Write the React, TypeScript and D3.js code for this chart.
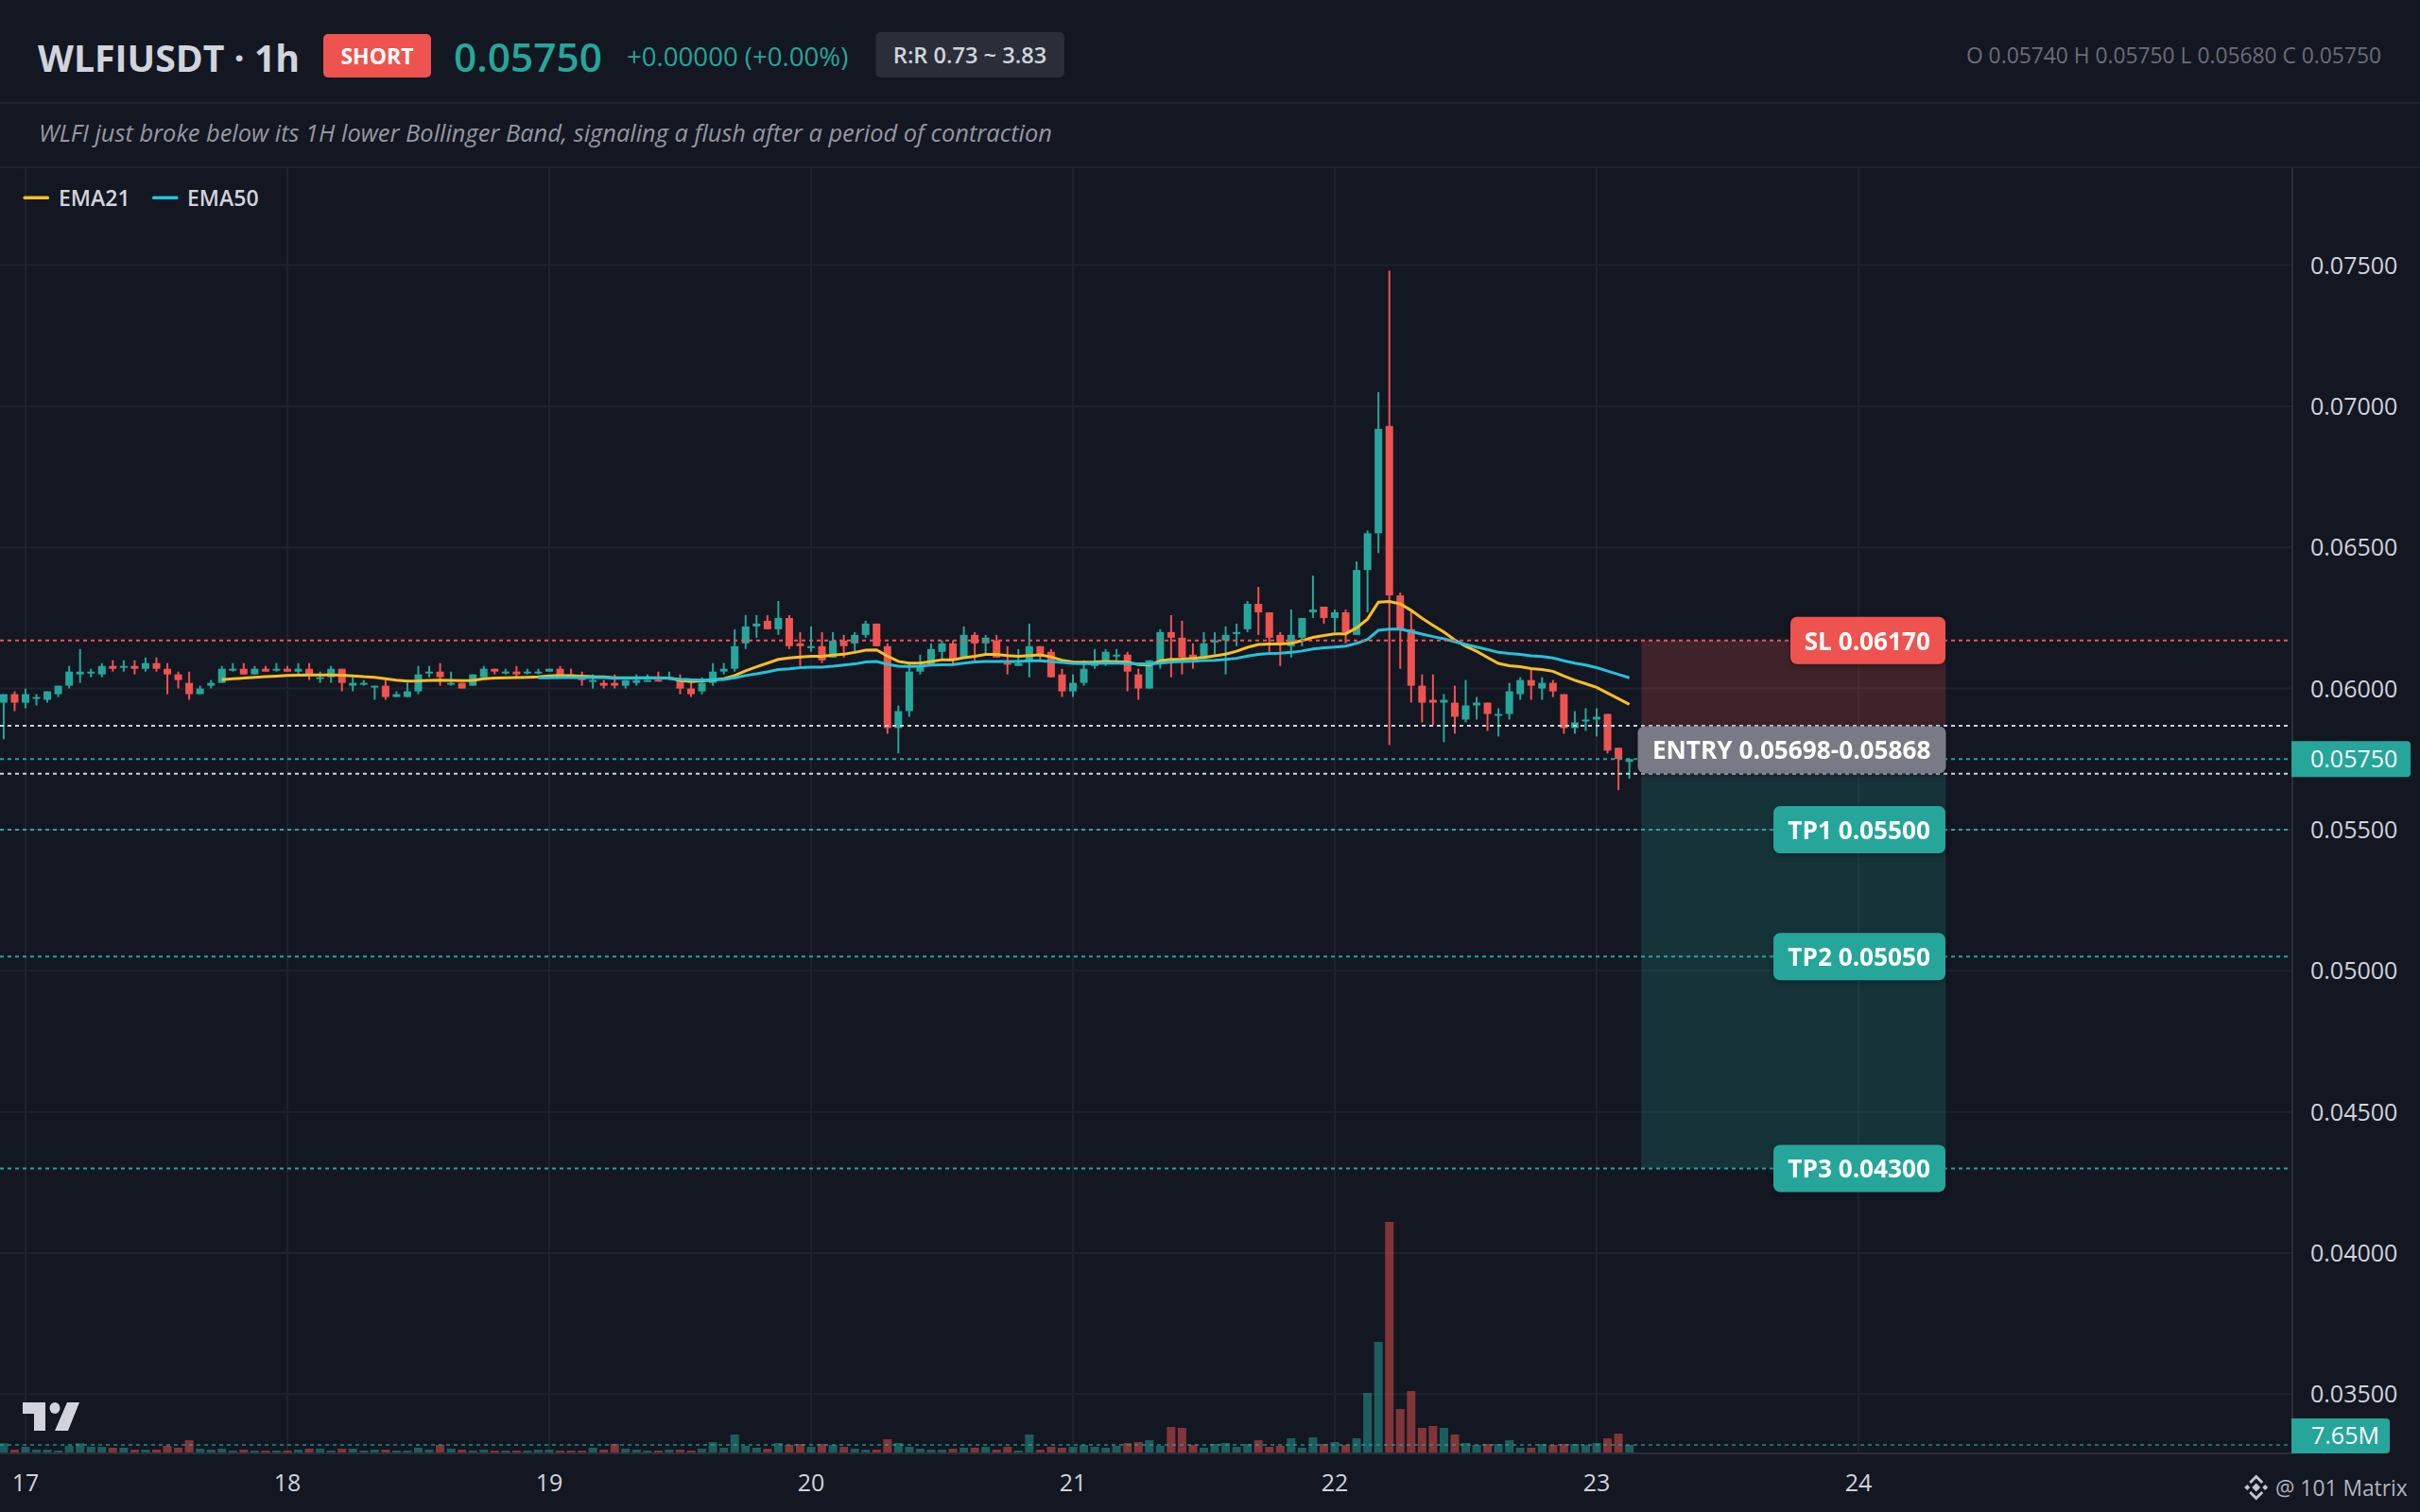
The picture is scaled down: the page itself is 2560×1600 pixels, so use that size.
import React from 'react';
import * as d3 from 'd3';

const FONT = '"Open Sans", "Noto Sans", sans-serif';
const BG = '#131722';
const UP = '#26a69a';
const DOWN = '#ef5350';
const GRID = '#1e222d';
const BORDER = '#2a2e39';
const TEXT = '#d1d4dc';

// first candle on screen is 2 hours before the "17" gridline
const FIRST_HOUR = -2;
const EMA21_START = 18;
const EMA50_START = 47;

const dayLabels = [17, 18, 19, 20, 21, 22, 23, 24];
const priceTicks = [0.075, 0.07, 0.065, 0.06, 0.055, 0.05, 0.045, 0.04, 0.035];

const opens = [
  0.0595, 0.0598, 0.0595, 0.0597, 0.0596, 0.0598, 0.0601, 0.0605, 0.0606, 0.0605,
  0.0608, 0.0608, 0.0608, 0.0607, 0.0609, 0.0607, 0.0605, 0.0602, 0.0598, 0.0601,
  0.0602, 0.0607, 0.0607, 0.0605, 0.0607, 0.0607, 0.0607, 0.0606, 0.0607, 0.0604,
  0.0604, 0.0607, 0.0601, 0.0602, 0.0601, 0.0601, 0.0597, 0.0597, 0.0599, 0.0606,
  0.0606, 0.0602, 0.0602, 0.0601, 0.0604, 0.0607, 0.0606, 0.0606, 0.0606, 0.0606,
  0.0606, 0.0607, 0.06051, 0.0604, 0.0603, 0.0602, 0.0602, 0.0601, 0.0602, 0.0603,
  0.06031, 0.0604, 0.0603, 0.06, 0.0599, 0.0602, 0.0606, 0.0607, 0.0616, 0.0622,
  0.0624, 0.0621, 0.0625, 0.0616, 0.0615, 0.0615, 0.0611, 0.0617, 0.0616, 0.0619,
  0.0623, 0.0615, 0.0586, 0.0592, 0.0606, 0.0608, 0.0613, 0.0616, 0.0611, 0.0619,
  0.0616, 0.0617, 0.06091, 0.0608, 0.061, 0.0615, 0.0613, 0.0605, 0.0599, 0.0602,
  0.0608, 0.061, 0.0612, 0.0612, 0.0605, 0.06, 0.061, 0.062, 0.0618, 0.0612,
  0.0611, 0.0617, 0.0617, 0.062, 0.0621, 0.063, 0.0627, 0.0619, 0.0615, 0.0618,
  0.0627, 0.0629, 0.0625, 0.0627, 0.0619, 0.0642, 0.0655, 0.0693, 0.0633, 0.0621,
  0.0601, 0.0596, 0.0595, 0.0595, 0.0589, 0.0594, 0.0595, 0.0591, 0.0591, 0.0598,
  0.0603, 0.06, 0.0602, 0.0598, 0.0586, 0.0589, 0.0589, 0.0591, 0.0579, 0.0574,
];

const closes = [
  0.0598, 0.0595, 0.0598, 0.0597, 0.0599, 0.0601, 0.0606, 0.0606, 0.0606, 0.0608,
  0.0607, 0.0608, 0.0607, 0.0609, 0.0607, 0.0605, 0.0603, 0.0598, 0.06, 0.0602,
  0.0607, 0.0607, 0.0605, 0.0607, 0.0606, 0.0607, 0.0606, 0.0607, 0.0605, 0.0604,
  0.0607, 0.0602, 0.0602, 0.0602, 0.0601, 0.0597, 0.0598, 0.0599, 0.0605, 0.0606,
  0.0604, 0.0602, 0.06, 0.0605, 0.0607, 0.0606, 0.0606, 0.0605, 0.0606, 0.0606,
  0.0607, 0.0605, 0.0605, 0.0603, 0.0603, 0.0601, 0.0601, 0.0603, 0.0603, 0.0603,
  0.0603, 0.0604, 0.06, 0.0598, 0.0602, 0.0606, 0.0607, 0.0615, 0.0622, 0.0623,
  0.0621, 0.0625, 0.0615, 0.0615, 0.0615, 0.061, 0.0617, 0.0615, 0.0619, 0.0623,
  0.0615, 0.0586, 0.0592, 0.0606, 0.0608, 0.0614, 0.0616, 0.061, 0.0619, 0.0616,
  0.0618, 0.0611, 0.0609, 0.0609, 0.0615, 0.0612, 0.0604, 0.0599, 0.0602, 0.0607,
  0.0609, 0.0613, 0.0612, 0.0606, 0.06, 0.061, 0.062, 0.0618, 0.0611, 0.0611,
  0.0616, 0.0617, 0.0619, 0.062, 0.063, 0.0627, 0.0618, 0.0616, 0.0619, 0.0625,
  0.0628, 0.0625, 0.0627, 0.062, 0.0642, 0.0655, 0.0692, 0.0633, 0.0621, 0.0601,
  0.0595, 0.0595, 0.0596, 0.059, 0.0594, 0.0595, 0.0591, 0.0591, 0.0599, 0.0603,
  0.0601, 0.0602, 0.0599, 0.0586, 0.0588, 0.0589, 0.059, 0.0578, 0.0575, 0.0575,
];

const highs = [
  0.0598, 0.0599, 0.06, 0.0598, 0.0599, 0.0601, 0.0608, 0.0614, 0.0607, 0.0609,
  0.061, 0.061, 0.061, 0.0611, 0.0611, 0.0609, 0.0606, 0.0606, 0.0601, 0.0603,
  0.0608, 0.0609, 0.0609, 0.0608, 0.0608, 0.0609, 0.0608, 0.0609, 0.0609, 0.0606,
  0.0608, 0.0607, 0.0604, 0.0603, 0.0601, 0.0603, 0.0599, 0.0602, 0.0608, 0.0608,
  0.0609, 0.0606, 0.0602, 0.0605, 0.0608, 0.0607, 0.0607, 0.0608, 0.0607, 0.0607,
  0.0607, 0.0608, 0.0607, 0.0606, 0.0605, 0.0603, 0.0605, 0.0603, 0.0605, 0.0605,
  0.0606, 0.0606, 0.0605, 0.0602, 0.0604, 0.0609, 0.0609, 0.0621, 0.0626, 0.0626,
  0.0626, 0.0631, 0.0626, 0.062, 0.0622, 0.062, 0.062, 0.0619, 0.062, 0.0624,
  0.0623, 0.0616, 0.0594, 0.0609, 0.0612, 0.0616, 0.0617, 0.0617, 0.0622, 0.062,
  0.0619, 0.0619, 0.0615, 0.0614, 0.0623, 0.0615, 0.0614, 0.0607, 0.0605, 0.061,
  0.0614, 0.0614, 0.0614, 0.0613, 0.0607, 0.061, 0.0621, 0.0626, 0.0624, 0.0616,
  0.062, 0.062, 0.0622, 0.0623, 0.0631, 0.0636, 0.0627, 0.062, 0.0628, 0.0625,
  0.064, 0.0629, 0.0628, 0.0628, 0.0645, 0.0656, 0.0705, 0.0748, 0.0634, 0.0628,
  0.0605, 0.0605, 0.0598, 0.0601, 0.0603, 0.0597, 0.0595, 0.0593, 0.0602, 0.0604,
  0.0607, 0.0604, 0.0603, 0.0598, 0.0592, 0.0593, 0.0593, 0.0591, 0.0579, 0.0575,
];

const lows = [
  0.0582, 0.0592, 0.0593, 0.0594, 0.0595, 0.0597, 0.06, 0.0602, 0.0604, 0.0604,
  0.0606, 0.0606, 0.0605, 0.0606, 0.0606, 0.0598, 0.06, 0.0596, 0.0598, 0.06,
  0.0602, 0.0606, 0.0605, 0.0605, 0.0606, 0.0606, 0.0606, 0.0605, 0.0603, 0.0602,
  0.0602, 0.0599, 0.0599, 0.0601, 0.0596, 0.0596, 0.0597, 0.0597, 0.0598, 0.0604,
  0.0601, 0.0601, 0.06, 0.0601, 0.0604, 0.0605, 0.0605, 0.0604, 0.0605, 0.0605,
  0.0606, 0.0605, 0.0605, 0.0601, 0.06, 0.06, 0.06, 0.06, 0.0601, 0.0603,
  0.0603, 0.0603, 0.0598, 0.0597, 0.0598, 0.0601, 0.0605, 0.0606, 0.0614, 0.0618,
  0.0621, 0.0619, 0.0614, 0.0608, 0.0613, 0.0609, 0.0611, 0.0611, 0.0613, 0.0618,
  0.0615, 0.0584, 0.0577, 0.059, 0.0605, 0.0608, 0.061, 0.0608, 0.0611, 0.061,
  0.0612, 0.0611, 0.0605, 0.0608, 0.0604, 0.061, 0.0604, 0.0597, 0.0597, 0.0601,
  0.0607, 0.0608, 0.061, 0.0599, 0.0596, 0.06, 0.0607, 0.0604, 0.0605, 0.0607,
  0.0611, 0.0612, 0.0605, 0.0615, 0.062, 0.0619, 0.0613, 0.0608, 0.0611, 0.0615,
  0.0625, 0.0623, 0.062, 0.0616, 0.0619, 0.0627, 0.0648, 0.058, 0.0607, 0.0595,
  0.0588, 0.0587, 0.0581, 0.0584, 0.0588, 0.0589, 0.0585, 0.0583, 0.0589, 0.0596,
  0.0596, 0.0596, 0.0597, 0.0584, 0.0584, 0.0585, 0.0583, 0.0577, 0.0564, 0.0568,
];

// volumes in millions
const volumes = [
  9.3, 2.9, 5.7, 2.9, 2.9, 1.9, 6.7, 9.3, 5.7, 5.7,
  4.8, 4.8, 2.9, 2.9, 2.9, 6.7, 4.8, 12.4, 3.8, 2.9,
  3.8, 1.9, 2.9, 1.9, 1.9, 1.9, 1.9, 2.9, 3.8, 3.8,
  1.9, 3.8, 3.8, 1.9, 2.9, 2.9, 1.9, 1.9, 4.8, 2.9,
  7.65, 3.8, 2.9, 1.9, 2.9, 1.9, 1.9, 1.9, 1.9, 2.9,
  2.9, 1.9, 1.9, 1.9, 4.8, 2.9, 8.6, 3.8, 2.9, 1.9,
  1.9, 2.9, 2.9, 1.9, 3.8, 10.5, 4.8, 18.2, 6.7, 4.8,
  3.8, 9.6, 7.65, 8.6, 5.7, 8.6, 7.65, 5.7, 3.8, 2.9,
  2.9, 13.4, 9.6, 5.7, 3.8, 2.9, 2.9, 3.8, 4.8, 4.8,
  5.7, 2.9, 5.7, 1.9, 18.2, 2.9, 5.7, 4.8, 5.7, 7.65,
  5.7, 4.8, 6.7, 9.6, 10.5, 12.4, 6.7, 25.8, 24.9, 7.65,
  4.8, 8.6, 9.6, 5.7, 8.6, 12.4, 5.7, 6.7, 14.3, 4.8,
  15.3, 8.6, 10.5, 7.65, 14.3, 60.3, 112, 233.5, 44, 62.2,
  24.9, 26.8, 24.9, 18.2, 9.6, 7.65, 8.6, 8.6, 12.4, 4.8,
  4.8, 8.6, 7.65, 8.6, 8.6, 7.65, 9.6, 14.3, 19.1, 7.65,
];

const ema21 = [
  0.06031, 0.06035, 0.06037, 0.0604, 0.06042, 0.06044, 0.06046, 0.06047, 0.06048, 0.06048,
  0.06048, 0.06047, 0.06045, 0.06042, 0.0604, 0.06035, 0.0603, 0.06026, 0.06027, 0.06029,
  0.0603, 0.06029, 0.06028, 0.06029, 0.06035, 0.06037, 0.06038, 0.06039, 0.0604, 0.06041,
  0.06045, 0.06046, 0.06045, 0.06044, 0.06042, 0.06041, 0.06038, 0.06038, 0.06038, 0.06038,
  0.06038, 0.06037, 0.06029, 0.06025, 0.06027, 0.0603, 0.06035, 0.06046, 0.06063, 0.06077,
  0.0609, 0.06103, 0.06108, 0.06112, 0.06114, 0.06114, 0.06118, 0.06122, 0.06128, 0.06136,
  0.06137, 0.06115, 0.06096, 0.0609, 0.0609, 0.06096, 0.06102, 0.06102, 0.06109, 0.06114,
  0.06121, 0.06121, 0.06117, 0.06114, 0.06117, 0.06119, 0.06112, 0.061, 0.06094, 0.06093,
  0.06094, 0.06096, 0.06095, 0.06093, 0.06085, 0.06083, 0.06098, 0.06103, 0.06104, 0.06107,
  0.0611, 0.06116, 0.06122, 0.06132, 0.06146, 0.06156, 0.06158, 0.06158, 0.0616, 0.0617,
  0.06181, 0.06188, 0.06194, 0.06194, 0.06215, 0.06246, 0.06306, 0.06308, 0.063, 0.06277,
  0.06249, 0.06224, 0.062, 0.06172, 0.0615, 0.06132, 0.0611, 0.06089, 0.06081, 0.06077,
  0.06071, 0.06067, 0.06061, 0.06044, 0.06029, 0.06017, 0.06004, 0.05984, 0.05964, 0.05944,
];

const ema50 = [
  0.06038, 0.06038, 0.06039, 0.06039, 0.06039, 0.06039, 0.06039, 0.06036, 0.06037, 0.06037,
  0.06037, 0.06037, 0.06036, 0.06033, 0.06031, 0.0603, 0.06031, 0.06032, 0.06038, 0.06046,
  0.06052, 0.06059, 0.06067, 0.0607, 0.06074, 0.06076, 0.06076, 0.06079, 0.06083, 0.06087,
  0.06094, 0.06096, 0.06086, 0.06079, 0.06078, 0.06079, 0.06083, 0.06084, 0.06085, 0.0609,
  0.06094, 0.06096, 0.06096, 0.06096, 0.06096, 0.06098, 0.06098, 0.06096, 0.06092, 0.06089,
  0.06088, 0.06089, 0.0609, 0.0609, 0.06089, 0.06087, 0.06087, 0.0609, 0.06094, 0.06096,
  0.06097, 0.06099, 0.061, 0.06103, 0.06107, 0.06115, 0.06121, 0.06124, 0.06125, 0.06128,
  0.06133, 0.0614, 0.06144, 0.06147, 0.0615, 0.0616, 0.06174, 0.06206, 0.0621, 0.0621,
  0.06202, 0.06193, 0.06184, 0.06176, 0.06166, 0.06156, 0.06147, 0.06138, 0.06128, 0.06124,
  0.06121, 0.06116, 0.06113, 0.06108, 0.06098, 0.0609, 0.06083, 0.06074, 0.06062, 0.0605,
  0.06038,
];

const SL_PRICE = 0.0617;
const ENTRY_HIGH = 0.05868;
const ENTRY_LOW = 0.05698;
const LAST_PRICE = 0.0575;
const LAST_VOLUME = 7.65;
const ZONE_HOURS = [148.1, 176];
const tpPrices = [0.055, 0.0505, 0.043];
const tpNames = ['TP1 0.05500', 'TP2 0.05050', 'TP3 0.04300'];

const WIDTH = 2560;
const HEIGHT = 1600;
const PLOT_TOP = 177;
const PLOT_BOTTOM = 1538;
const PLOT_RIGHT = 2425;

const x = d3.scaleLinear().domain([0, 168]).range([27, 1966]);
const y = d3.scaleLinear().domain([0.035, 0.075]).range([1475.35, 280.55]);
const vol = d3.scaleLinear().domain([0, 233.5]).range([1537, 1293]);
const dayX = (i: number) => x(i * 24);

const emaPath = (values: number[], start: number) =>
  d3
    .line<number>()
    .x((_, i) => x(start + i))
    .y((d) => y(d))(values) as string;

const PriceLine = ({ price, color }: { price: number; color: string }) => (
  <line
    x1={0}
    x2={PLOT_RIGHT - 4}
    y1={y(price)}
    y2={y(price)}
    stroke={color}
    strokeWidth={2}
    strokeDasharray="4 4"
  />
);

const Tag = ({ right, cy, w, fill, label }: { right: number; cy: number; w: number; fill: string; label: string }) => (
  <g style={{ filter: 'drop-shadow(0 2px 3px rgba(0,0,0,0.35))' }}>
    <rect x={right - w} y={cy - 25} width={w} height={50} rx={7} fill={fill} />
    <text
      x={right - 16}
      y={cy + 10}
      textAnchor="end"
      fontFamily={FONT}
      fontSize={26.2}
      fontWeight={700}
      fill="#fff"
    >
      {label}
    </text>
  </g>
);

export default function App() {
  const candleFill = (i: number) => (closes[i] >= opens[i] ? UP : DOWN);

  return (
    <svg
      width={WIDTH}
      height={HEIGHT}
      viewBox={`0 0 ${WIDTH} ${HEIGHT}`}
      style={{ position: 'absolute', left: 0, top: 0, display: 'block', background: BG }}
    >
      <rect width={WIDTH} height={HEIGHT} fill={BG} />

      {/* grid */}
      {priceTicks.map((p) => (
        <line key={p} x1={0} x2={PLOT_RIGHT} y1={y(p)} y2={y(p)} stroke={GRID} strokeWidth={2} />
      ))}
      {dayLabels.map((d, i) => (
        <line key={d} x1={dayX(i)} x2={dayX(i)} y1={PLOT_TOP} y2={PLOT_BOTTOM} stroke={GRID} strokeWidth={2} />
      ))}

      {/* trade zones */}
      <rect
        x={x(ZONE_HOURS[0])}
        width={x(ZONE_HOURS[1]) - x(ZONE_HOURS[0])}
        y={y(SL_PRICE)}
        height={y(ENTRY_HIGH) - y(SL_PRICE)}
        fill={DOWN}
        fillOpacity={0.2}
      />
      <rect
        x={x(ZONE_HOURS[0])}
        width={x(ZONE_HOURS[1]) - x(ZONE_HOURS[0])}
        y={y(ENTRY_LOW)}
        height={y(tpPrices[2]) - y(ENTRY_LOW)}
        fill={UP}
        fillOpacity={0.2}
      />

      {/* volume */}
      {volumes.map((v, i) => (
        <rect
          key={i}
          x={x(FIRST_HOUR + i) - 4.5}
          width={9}
          y={vol(v)}
          height={vol(0) - vol(v)}
          fill={candleFill(i)}
          fillOpacity={0.5}
        />
      ))}

      {/* candles */}
      {opens.map((o, i) => {
        const cx = x(FIRST_HOUR + i);
        const top = y(Math.max(o, closes[i]));
        const bottom = y(Math.min(o, closes[i]));
        return (
          <g key={i} fill={candleFill(i)}>
            <rect x={cx - 1} width={2} y={y(highs[i])} height={y(lows[i]) - y(highs[i])} />
            <rect x={cx - 4} width={8} y={top} height={Math.max(bottom - top, 2)} />
          </g>
        );
      })}

      {/* EMAs */}
      <path d={emaPath(ema21, EMA21_START)} fill="none" stroke="#fbbf24" strokeWidth={3} />
      <path d={emaPath(ema50, EMA50_START)} fill="none" stroke="#22c3dc" strokeWidth={3} />

      {/* levels */}
      <PriceLine price={SL_PRICE} color={DOWN} />
      <PriceLine price={ENTRY_HIGH} color={TEXT} />
      <PriceLine price={ENTRY_LOW} color={TEXT} />
      <PriceLine price={LAST_PRICE} color={UP} />
      {tpPrices.map((p) => (
        <PriceLine key={p} price={p} color={UP} />
      ))}
      <line
        x1={0}
        x2={PLOT_RIGHT - 2}
        y1={vol(LAST_VOLUME)}
        y2={vol(LAST_VOLUME)}
        stroke={UP}
        strokeOpacity={0.6}
        strokeWidth={2}
        strokeDasharray="4 4"
      />

      {/* frame of the axes */}
      <line x1={0} x2={PLOT_RIGHT} y1={PLOT_BOTTOM} y2={PLOT_BOTTOM} stroke={BORDER} strokeWidth={2} />
      <line x1={PLOT_RIGHT} x2={PLOT_RIGHT} y1={PLOT_TOP} y2={PLOT_BOTTOM} stroke={BORDER} strokeWidth={2} />

      {/* level tags */}
      <Tag right={2058} cy={y(SL_PRICE)} w={164} fill={DOWN} label="SL 0.06170" />
      <Tag
        right={2058.5}
        cy={(y(ENTRY_HIGH) + y(ENTRY_LOW)) / 2}
        w={326}
        fill="#787b86"
        label="ENTRY 0.05698-0.05868"
      />
      {tpPrices.map((p, i) => (
        <Tag key={p} right={2058} cy={y(p)} w={182} fill={UP} label={tpNames[i]} />
      ))}

      {/* price axis */}
      {priceTicks.map((p) => (
        <text key={p} x={2444} y={y(p) + 9} fontFamily={FONT} fontSize={25} fill={TEXT}>
          {d3.format('.5f')(p)}
        </text>
      ))}
      <path d={`M2424 ${y(LAST_PRICE) - 19}h122a4 4 0 0 1 4 4v30a4 4 0 0 1 -4 4h-122z`} fill={UP} />
      <text x={2444} y={y(LAST_PRICE) + 9} fontFamily={FONT} fontSize={25} fill="#fff">
        0.05750
      </text>
      <path d="M2424 1501h100a4 4 0 0 1 4 4v29a4 4 0 0 1 -4 4h-100z" fill={UP} />
      <text x={2445} y={1528} fontFamily={FONT} fontSize={25} fill="#fff">
        7.65M
      </text>

      {/* time axis */}
      {dayLabels.map((d, i) => (
        <text key={d} x={dayX(i)} y={1578} textAnchor="middle" fontFamily={FONT} fontSize={25} fill={TEXT}>
          {d}
        </text>
      ))}

      {/* header */}
      <line x1={0} x2={WIDTH} y1={109} y2={109} stroke={GRID} strokeWidth={2} />
      <line x1={0} x2={WIDTH} y1={177} y2={177} stroke={GRID} strokeWidth={2} />
      <text x={40} y={76} fontFamily={FONT} fontSize={39.2} fontWeight={700} fill={TEXT}>
        WLFIUSDT · 1h
      </text>
      <rect x={342} y={36} width={114} height={46} rx={5} fill={DOWN} />
      <text x={399} y={68} textAnchor="middle" fontFamily={FONT} fontSize={23} fontWeight={700} fill="#fff">
        SHORT
      </text>
      <text x={480} y={76} fontFamily={FONT} fontSize={42.4} fontWeight={600} fill={UP}>
        0.05750
      </text>
      <text x={663} y={70} fontFamily={FONT} fontSize={27.6} fontWeight={500} fill={UP}>
        +0.00000 (+0.00%)
      </text>
      <rect x={926.5} y={34} width={199.5} height={48} rx={5} fill={BORDER} />
      <text x={1026} y={67} textAnchor="middle" fontFamily={FONT} fontSize={23.6} fontWeight={600} fill={TEXT}>
        R:R 0.73 ~ 3.83
      </text>
      <text x={2519} y={67} textAnchor="end" fontFamily={FONT} fontSize={22.8} fill="#6a6d78">
        O 0.05740 H 0.05750 L 0.05680 C 0.05750
      </text>
      <text x={41} y={150} fontFamily={FONT} fontSize={25.4} fontStyle="italic" fill="#9598a1">
        WLFI just broke below its 1H lower Bollinger Band, signaling a flush after a period of contraction
      </text>

      {/* legend */}
      <rect x={24.5} y={207.5} width={27.5} height={3.5} rx={1.5} fill="#fbbf24" />
      <text x={62} y={218} fontFamily={FONT} fontSize={23} fontWeight={600} fill={TEXT}>
        EMA21
      </text>
      <rect x={161} y={207.5} width={27.5} height={3.5} rx={1.5} fill="#22c3dc" />
      <text x={198} y={218} fontFamily={FONT} fontSize={23} fontWeight={600} fill={TEXT}>
        EMA50
      </text>

      {/* tradingview mark */}
      <g fill={TEXT}>
        <path d="M24 1484h24v30h-12v-18h-12z" />
        <ellipse cx={58} cy={1490} rx={5.5} ry={6} />
        <path d="M71 1484h13l-12 30h-14z" />
      </g>

      {/* binance watermark */}
      <g fill="#c4c7cf" transform="translate(2386.7 1574)">
        <path d="M0 -4.5L4.5 0L0 4.5L-4.5 0z" />
        <path d="M-9.5 -3L-6.5 0L-9.5 3L-12.5 0z" />
        <path d="M9.5 -3L12.5 0L9.5 3L6.5 0z" />
        <path d="M0 -13.5L7.5 -6L5.5 -4L0 -9.5L-5.5 -4L-7.5 -6z" />
        <path d="M0 13.5L7.5 6L5.5 4L0 9.5L-5.5 4L-7.5 6z" />
      </g>
      <text x={2407} y={1583} fontFamily={FONT} fontSize={22.8} fill="#b2b5be">
        @ 101 Matrix
      </text>
    </svg>
  );
}
